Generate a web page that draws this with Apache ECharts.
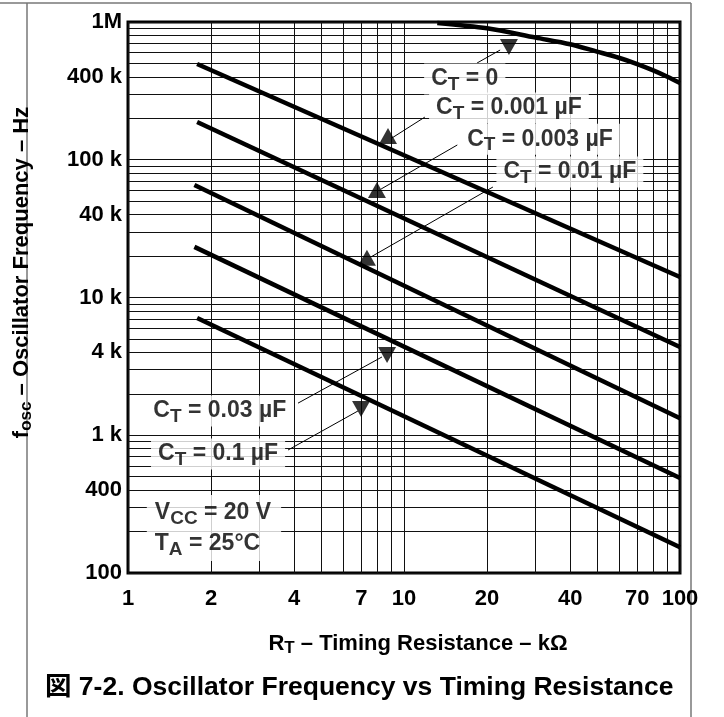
<!DOCTYPE html>
<html><head><meta charset="utf-8">
<script src="https://cdn.jsdelivr.net/npm/echarts@6/dist/echarts.min.js"></script>
<style>html,body{margin:0;padding:0;background:#fff}#c{width:724px;height:717px}</style>
</head><body><div id="c"></div>
<script>
// ---- axis ticks / grid ----
const xTickValues = [1, 2, 4, 7, 10, 20, 40, 70, 100];
const xGridValues = [1, 2, 3, 4, 5, 6, 7, 8, 9, 10, 20, 30, 40, 50, 60, 70, 80, 90, 100];
const yTickValues = [100, 400, 1000, 4000, 10000, 40000, 100000, 400000, 1000000];
const yTickLabels = ['100', '400', '1 k', '4 k', '10 k', '40 k', '100 k', '400 k', '1M'];
const yGridValues = [100, 200, 300, 400, 500, 600, 700, 800, 900,
  1000, 2000, 3000, 4000, 5000, 6000, 7000, 8000, 9000,
  10000, 20000, 30000, 40000, 50000, 60000, 70000, 80000, 90000,
  100000, 200000, 300000, 400000, 500000, 600000, 700000, 800000, 900000, 1000000];

// ---- curves: [R_T (kOhm), f_osc (Hz)] ----
const ct0 = [[13.2, 985000], [20, 900000], [30, 770000], [40, 690000], [50, 610000], [60, 550000], [70, 495000], [80, 445000], [90, 400000], [100, 360000]];
const ct001 = [[1.78, 496000], [100, 14100]];
const ct003 = [[1.78, 188000], [100, 4370]];
const ct01 = [[1.74, 65600], [100, 1330]];
const ct03 = [[1.74, 23300], [100, 489]];
const ct1 = [[1.78, 7100], [100, 154]];

// ---- annotation arrows ----
const markersUp = [[8.75, 149000], [7.98, 60300], [7.34, 19400]];
const markersDown = [[24.0, 659000], [8.68, 3830], [6.99, 1550]];
const leaders = [
  [[18.4, 504000], [22.3, 626000]],
  [[11.9, 204000], [9.05, 144000]],
  [[15.6, 128000], [8.26, 61300]],
  [[21.0, 63400], [7.59, 19700]],
  [[4.13, 1710], [8.32, 3700]],
  [[3.80, 781], [6.81, 1500]]
];
const annLabelPos = [[16.6, 386000], [24.0, 238000], [31.1, 141000], [39.9, 81500], [2.15, 1500], [2.12, 731]];
const annLabelCap = ['0', '0.001 µF', '0.003 µF', '0.01 µF', '0.03 µF', '0.1 µF'];
const condPos = [[1.17, 212]];
const condText = ['{c|V}{s|CC}{c| = 20 V}', '{c|T}{s|A}{c| = 25°C}'];

const FF = '"Liberation Sans", Arial, "Noto Sans CJK JP", sans-serif';
const rich = {
  c: { fontSize: 23, fontWeight: 'bold', fontFamily: FF, color: '#000', lineHeight: 25 },
  s: { fontSize: 19, fontWeight: 'bold', fontFamily: FF, color: '#000', padding: [12, 0, 0, 0] }
};
const nameRich = {
  n: { fontSize: 22, fontWeight: 'bold', fontFamily: FF, color: '#000', lineHeight: 25 },
  s: { fontSize: 17, fontWeight: 'bold', fontFamily: FF, color: '#000', padding: [10, 0, 0, 0] }
};

const curve = (d, smooth) => ({
  type: 'line', data: d, symbol: 'none', smooth: smooth ? 0.3 : false, silent: true, z: 3,
  lineStyle: { color: '#000', width: 4.5 }
});

const series = [
  curve(ct0, true), curve(ct001), curve(ct003), curve(ct01), curve(ct03), curve(ct1)
];
leaders.forEach(l => series.push({
  type: 'line', data: l, symbol: 'none', silent: true, z: 4,
  lineStyle: { color: '#000', width: 1 }
}));
series.push({
  type: 'scatter', data: markersUp, symbol: 'triangle', symbolSize: [18, 16], z: 5,
  itemStyle: { color: '#000' }, silent: true
});
series.push({
  type: 'scatter', data: markersDown, symbol: 'triangle', symbolRotate: 180, symbolSize: [18, 16], z: 5,
  itemStyle: { color: '#000' }, silent: true
});
series.push({
  type: 'scatter', silent: true, z: 6, symbolSize: 0,
  data: annLabelPos.map((p, i) => ({ value: p, cap: annLabelCap[i] })),
  label: {
    show: true, position: 'inside', backgroundColor: '#fff', padding: [0, 7, 0, 7],
    formatter: p => '{c|C}{s|T}{c| = ' + p.data.cap + '}', rich: rich
  }
});
series.push({
  type: 'scatter', silent: true, z: 6, symbolSize: 0,
  data: condPos,
  label: {
    show: true, position: 'right', distance: 0, align: 'left', backgroundColor: '#fff', padding: [2, 10, 2, 8],
    formatter: () => condText.join('\n'), rich: rich
  }
});

const chart = echarts.init(document.getElementById('c'), null, { renderer: 'canvas' });
chart.setOption({
  animation: false,
  backgroundColor: '#fff',
  title: {
    text: '図 7-2. Oscillator Frequency vs Timing Resistance',
    left: 40, top: 669,
    textStyle: { fontSize: 26.5, fontWeight: 'bold', fontFamily: FF, color: '#000' }
  },
  grid: { left: 128, right: 44, top: 22, bottom: 144, show: true, borderColor: '#000', borderWidth: 3, backgroundColor: 'transparent' },
  xAxis: {
    type: 'log', logBase: 10, min: 1, max: 100,
    name: '{n|R}{s|T}{n| – Timing Resistance – kΩ}',
    nameLocation: 'middle', nameGap: 57,
    nameTextStyle: { rich: nameRich, padding: [0, 0, 0, 28] },
    axisLine: { show: false },
    axisTick: { show: false, customValues: xGridValues },
    axisLabel: { customValues: xTickValues, margin: 15, fontSize: 22, fontWeight: 'bold', fontFamily: FF, color: '#000', formatter: v => String(v) },
    splitLine: { show: true, lineStyle: { color: '#111', width: 1 } }
  },
  yAxis: {
    type: 'log', logBase: 10, min: 100, max: 1000000,
    name: '{n|f}{s|osc}{n| – Oscillator Frequency – Hz}',
    nameLocation: 'middle', nameGap: 93, nameRotate: 90,
    nameTextStyle: { rich: nameRich, padding: [0, 0, 0, 50] },
    axisLine: { show: false },
    axisTick: { show: false, customValues: yGridValues },
    axisLabel: {
      customValues: yTickValues, margin: 6, fontSize: 22, fontWeight: 'bold', fontFamily: FF, color: '#000',
      formatter: v => { const i = yTickValues.findIndex(t => Math.abs(t - v) / t < 1e-6); return i >= 0 ? yTickLabels[i] : ''; }
    },
    splitLine: { show: true, lineStyle: { color: '#111', width: 1 } }
  },
  graphic: [
    { type: 'line', shape: { x1: 27, y1: 3, x2: 27, y2: 717 }, style: { stroke: '#777', lineWidth: 1.5 }, silent: true },
    { type: 'line', shape: { x1: 691, y1: 3, x2: 691, y2: 717 }, style: { stroke: '#777', lineWidth: 1.5 }, silent: true },
    { type: 'line', shape: { x1: 0, y1: 3, x2: 691, y2: 3 }, style: { stroke: '#777', lineWidth: 1.5 }, silent: true }
  ],
  series: series
});
</script>
</body></html>
